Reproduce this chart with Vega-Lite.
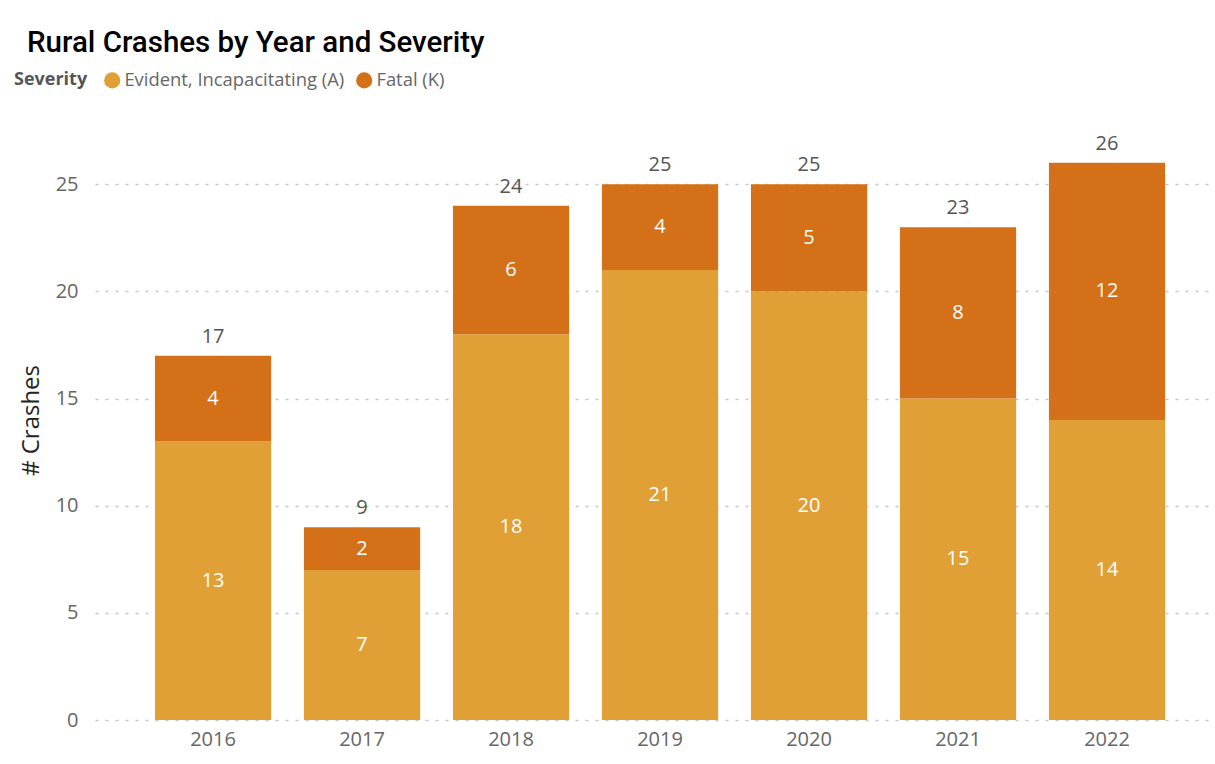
{
  "$schema": "https://vega.github.io/schema/vega-lite/v6.json",
  "autosize": {"type": "none"},
  "width": 1120,
  "height": 600,
  "padding": {"left": 95, "top": 120, "right": 0, "bottom": 44},
  "background": "white",
  "config": {"view": {"stroke": null}},
  "title": {
    "text": "Rural Crashes by Year and Severity",
    "anchor": "start",
    "frame": "group",
    "dx": -68,
    "offset": 13,
    "font": "Roboto",
    "fontSize": 29.5,
    "fontWeight": 500,
    "color": "#000000"
  },
  "data": {
    "values": [
      {"year": "2016", "severity": "Evident, Incapacitating (A)", "crashes": 13},
      {"year": "2016", "severity": "Fatal (K)", "crashes": 4},
      {"year": "2017", "severity": "Evident, Incapacitating (A)", "crashes": 7},
      {"year": "2017", "severity": "Fatal (K)", "crashes": 2},
      {"year": "2018", "severity": "Evident, Incapacitating (A)", "crashes": 18},
      {"year": "2018", "severity": "Fatal (K)", "crashes": 6},
      {"year": "2019", "severity": "Evident, Incapacitating (A)", "crashes": 21},
      {"year": "2019", "severity": "Fatal (K)", "crashes": 4},
      {"year": "2020", "severity": "Evident, Incapacitating (A)", "crashes": 20},
      {"year": "2020", "severity": "Fatal (K)", "crashes": 5},
      {"year": "2021", "severity": "Evident, Incapacitating (A)", "crashes": 15},
      {"year": "2021", "severity": "Fatal (K)", "crashes": 8},
      {"year": "2022", "severity": "Evident, Incapacitating (A)", "crashes": 14},
      {"year": "2022", "severity": "Fatal (K)", "crashes": 12}
    ]
  },
  "encoding": {
    "x": {
      "field": "year",
      "type": "ordinal",
      "title": null,
      "scale": {"paddingInner": 0.22, "paddingOuter": 0.3685, "align": 0.546},
      "axis": {
        "domain": false,
        "ticks": false,
        "labelAngle": 0,
        "labelFont": "Open Sans",
        "labelFontSize": 20,
        "labelColor": "#666666",
        "labelPadding": 9
      }
    }
  },
  "layer": [
    {
      "mark": {"type": "bar"},
      "encoding": {
        "y": {
          "field": "crashes",
          "type": "quantitative",
          "stack": "zero",
          "title": "# Crashes",
          "scale": {"domain": [0, 28], "nice": false},
          "axis": {
            "values": [0, 5, 10, 15, 20, 25],
            "domain": false,
            "ticks": false,
            "grid": true,
            "gridDash": [3, 7],
            "gridColor": "#c8c8c8",
            "gridWidth": 1.5,
            "labelFont": "Open Sans",
            "labelFontSize": 20,
            "labelColor": "#666666",
            "labelPadding": 17,
            "titleFont": "Open Sans",
            "titleFontSize": 24,
            "titleFontWeight": 500,
            "titleColor": "#252423",
            "titlePadding": 12
          }
        },
        "color": {
          "field": "severity",
          "type": "nominal",
          "scale": {
            "domain": ["Evident, Incapacitating (A)", "Fatal (K)"],
            "range": ["#E0A036", "#D37018"]
          },
          "legend": {
            "title": "Severity",
            "orient": "none",
            "legendX": -81,
            "legendY": -49,
            "direction": "horizontal",
            "titleOrient": "left",
            "titleFont": "Open Sans",
            "titleFontSize": 18,
            "titleFontWeight": "bold",
            "titleColor": "#555555",
            "titlePadding": 15,
            "labelFont": "Open Sans",
            "labelFontSize": 18.4,
            "labelColor": "#666666",
            "labelOffset": 3,
            "labelLimit": 400,
            "symbolType": "circle",
            "symbolSize": 260,
            "symbolStrokeWidth": 0,
            "columnPadding": 10
          }
        },
        "order": {"field": "severity", "sort": "ascending"}
      }
    },
    {
      "mark": {"type": "text", "color": "white", "font": "Open Sans", "fontSize": 20, "baseline": "middle"},
      "encoding": {
        "y": {"field": "crashes", "type": "quantitative", "stack": "zero", "bandPosition": 0.5},
        "detail": {"field": "severity"},
        "order": {"field": "severity", "sort": "ascending"},
        "text": {"field": "crashes", "type": "quantitative"}
      }
    },
    {
      "transform": [
        {"aggregate": [{"op": "sum", "field": "crashes", "as": "total"}], "groupby": ["year"]}
      ],
      "mark": {"type": "text", "color": "#555555", "font": "Open Sans", "fontSize": 20, "baseline": "bottom", "dy": -9},
      "encoding": {
        "y": {"field": "total", "type": "quantitative"},
        "text": {"field": "total", "type": "quantitative"}
      }
    }
  ]
}
